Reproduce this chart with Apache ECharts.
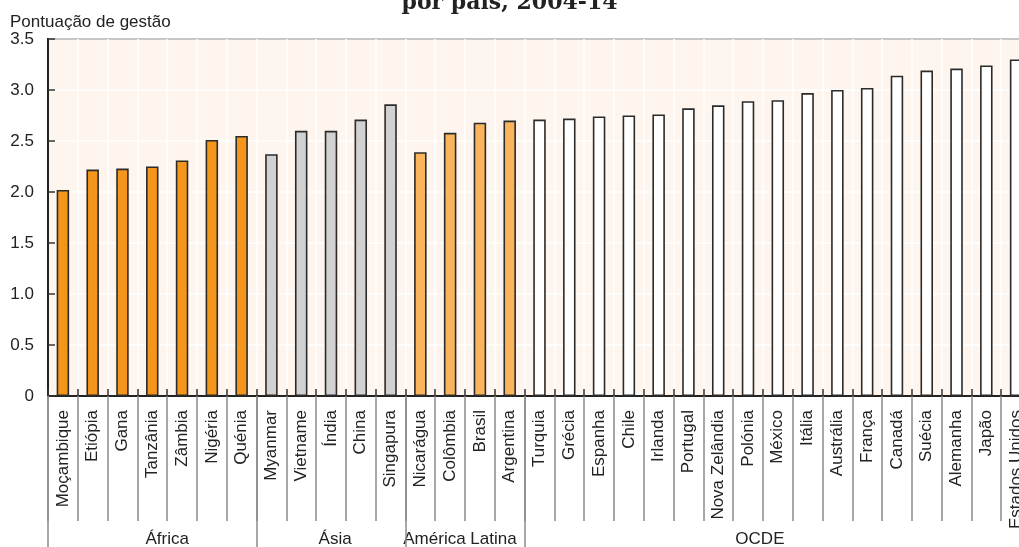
<!DOCTYPE html>
<html>
<head>
<meta charset="utf-8">
<script src="https://cdn.jsdelivr.net/npm/echarts@6/dist/echarts.min.js"></script>
<style>
  html, body { margin: 0; padding: 0; background: #ffffff; }
  #chart { width: 1019px; height: 547px; }
</style>
</head>
<body>
<div id="chart"></div>
<script>
// Average management score by country, grouped by region
const africaCountries = ['Moçambique', 'Etiópia', 'Gana', 'Tanzânia', 'Zâmbia', 'Nigéria', 'Quénia'];
const africaScores    = [2.02, 2.22, 2.23, 2.25, 2.31, 2.51, 2.55];

const asiaCountries = ['Myanmar', 'Vietname', 'Índia', 'China', 'Singapura'];
const asiaScores    = [2.37, 2.60, 2.60, 2.71, 2.86];

const latamCountries = ['Nicarágua', 'Colômbia', 'Brasil', 'Argentina'];
const latamScores    = [2.39, 2.58, 2.68, 2.70];

const oecdCountries = ['Turquia', 'Grécia', 'Espanha', 'Chile', 'Irlanda', 'Portugal', 'Nova Zelândia',
                       'Polónia', 'México', 'Itália', 'Austrália', 'França', 'Canadá', 'Suécia',
                       'Alemanha', 'Japão', 'Estados Unidos'];
const oecdScores    = [2.71, 2.72, 2.74, 2.75, 2.76, 2.82, 2.85, 2.89, 2.90, 2.97, 3.00, 3.02,
                       3.14, 3.19, 3.21, 3.24, 3.30];

const groupNames = ['África', 'Ásia', 'América Latina', 'OCDE'];
const yTickValues = [0, 0.5, 1.0, 1.5, 2.0, 2.5, 3.0, 3.5];

const titleText = 'por país, 2004-14';
const yAxisTitle = 'Pontuação de gestão';

// ---- build the axis data and bar items from the region arrays ----
const groups = [
  { name: groupNames[0], countries: africaCountries, scores: africaScores, color: '#f3961b' },
  { name: groupNames[1], countries: asiaCountries,   scores: asiaScores,   color: '#d1d1d1' },
  { name: groupNames[2], countries: latamCountries,  scores: latamScores,  color: '#f9b45c' },
  { name: groupNames[3], countries: oecdCountries,   scores: oecdScores,   color: '#ffffff' }
];

const categories = [];
const barData = [];
const groupStarts = [];
groups.forEach(g => {
  groupStarts.push(categories.length);
  g.countries.forEach((c, i) => {
    categories.push(c);
    barData.push({ value: g.scores[i], itemStyle: { color: g.color } });
  });
});

// where each region caption sits, in category widths from the left edge
const groupLabelAt = [4.0, 9.64, 13.83, 23.9];

const FONT = '"Liberation Sans", Arial, sans-serif';
const INK = '#222222';

const chart = echarts.init(document.getElementById('chart'), null, { renderer: 'canvas' });

const option = {
  animation: false,
  backgroundColor: '#ffffff',
  title: [
    {
      text: titleText,
      left: 'center',
      top: -8,
      padding: 0,
      textStyle: { fontFamily: '"DejaVu Serif", serif', fontWeight: 'bold', fontSize: 22, color: INK }
    },
    {
      text: yAxisTitle,
      left: 10,
      top: 14,
      padding: 0,
      textStyle: { fontFamily: FONT, fontWeight: 'normal', fontSize: 17, color: INK }
    }
  ],
  grid: {
    // the plot runs a little past the right edge of the page
    left: 48,
    right: -12,
    top: 39,
    bottom: 151,
    outerBoundsMode: 'none',
    containLabel: false,
    show: true,
    backgroundColor: '#fef6ee',
    borderColor: '#222222',
    borderWidth: 2
  },
  xAxis: [
    {
      type: 'category',
      data: categories,
      position: 'bottom',
      axisLine: { show: true, lineStyle: { color: '#222222', width: 2 } },
      axisTick: { show: true, inside: false, length: 125, interval: 0, lineStyle: { color: '#8a8a8a', width: 1.5 } },
      axisLabel: {
        interval: 0, rotate: 90, margin: 14,
        fontFamily: FONT, fontSize: 17, color: INK
      },
      splitLine: { show: true, interval: 0, lineStyle: { color: '#ffffff', width: 1.5 } }
    },
    {
      // short inner ticks at the category boundaries
      type: 'category',
      data: categories,
      position: 'bottom',
      axisLine: { show: false },
      axisTick: { show: true, inside: true, length: 7, interval: 0, lineStyle: { color: '#333333', width: 1.5 } },
      axisLabel: { show: false },
      splitLine: { show: false }
    },
    {
      // region separators
      type: 'category',
      data: categories,
      position: 'bottom',
      axisLine: { show: false },
      axisTick: {
        show: true, inside: false, length: 160,
        interval: (idx) => groupStarts.indexOf(idx) !== -1,
        lineStyle: { color: '#8a8a8a', width: 1.5 }
      },
      axisLabel: { show: false },
      splitLine: { show: false }
    }
  ],
  yAxis: {
    type: 'value',
    min: yTickValues[0],
    max: yTickValues[yTickValues.length - 1],
    interval: yTickValues[1] - yTickValues[0],
    axisLine: { show: true, lineStyle: { color: '#222222', width: 2 } },
    axisTick: { show: true, inside: true, length: 7, lineStyle: { color: '#333333', width: 1.5 } },
    axisLabel: {
      margin: 14, fontFamily: FONT, fontSize: 17, color: INK,
      formatter: v => (v === 0 ? '0' : v.toFixed(1))
    },
    splitLine: { show: true, lineStyle: { color: '#ffffff', width: 1.5 } }
  },
  series: [
    {
      type: 'bar',
      xAxisIndex: 0,
      yAxisIndex: 0,
      data: barData,
      barWidth: 12.5,
      itemStyle: { borderColor: '#2b2b2b', borderWidth: 1.6 },
      emphasis: { disabled: true }
    }
  ]
};

chart.setOption(option);

// region captions under the country names
const c0 = chart.convertToPixel({ xAxisIndex: 0 }, categories[0]);
const c1 = chart.convertToPixel({ xAxisIndex: 0 }, categories[1]);
const band = c1 - c0;
const leftEdge = c0 - band / 2;
chart.setOption({
  graphic: groups.map((g, i) => ({
    type: 'text',
    silent: true,
    style: {
      text: g.name,
      x: leftEdge + groupLabelAt[i] * band,
      y: 539,
      align: 'center',
      verticalAlign: 'middle',
      font: '17px ' + FONT,
      fill: INK
    }
  }))
});
</script>
</body>
</html>
